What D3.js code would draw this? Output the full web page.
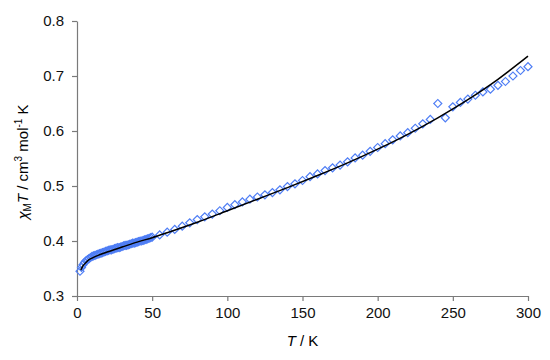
<!DOCTYPE html>
<html>
<head>
<meta charset="utf-8">
<script src="https://cdn.jsdelivr.net/npm/d3@7"></script>
<style>
  body { margin: 0; background: #fff; }
  svg { font-family: "Liberation Sans", Arial, sans-serif; }
</style>
</head>
<body>
<svg id="chart" width="550" height="360"></svg>
<script>
// measured chi_M*T values (open diamonds)
const tempData = [2, 3, 4, 5, 6, 7, 8, 9, 10, 11, 12, 13, 14, 15, 16, 17, 18, 19, 20,
    21, 22, 23, 24, 25, 26, 27, 28, 29, 30, 31, 32, 33, 34, 35, 36, 37, 38, 39, 40,
    41, 42, 43, 44, 45, 46, 47, 48, 49, 50,
    55, 60, 65, 70, 75, 80, 85, 90, 95, 100, 105, 110, 115, 120, 125, 130, 135, 140,
    145, 150, 155, 160, 165, 170, 175, 180, 185, 190, 195, 200, 205, 210, 215, 220,
    225, 230, 235, 240, 245, 250, 255, 260, 265, 270, 275, 280, 285, 290, 295, 300];
const chiTData = [0.345, 0.352, 0.357, 0.361, 0.364, 0.366, 0.368, 0.370, 0.372, 0.373,
    0.374, 0.375, 0.376, 0.377, 0.378, 0.379, 0.380, 0.381, 0.382,
    0.383, 0.384, 0.384, 0.385, 0.386, 0.387, 0.388, 0.388, 0.389, 0.390,
    0.391, 0.392, 0.392, 0.393, 0.394, 0.395, 0.396, 0.396, 0.397, 0.398,
    0.399, 0.400, 0.400, 0.401, 0.402, 0.403, 0.404, 0.405, 0.406, 0.407,
    0.411, 0.416, 0.421, 0.427, 0.433, 0.439, 0.444, 0.449, 0.455, 0.461,
    0.466, 0.471, 0.476, 0.480, 0.484, 0.488, 0.493, 0.499,
    0.504, 0.510, 0.517, 0.522, 0.528, 0.533, 0.538, 0.544, 0.551, 0.556,
    0.563, 0.570, 0.577, 0.584, 0.591, 0.597,
    0.605, 0.613, 0.621, 0.650, 0.624, 0.644, 0.652, 0.658, 0.665, 0.671,
    0.676, 0.683, 0.690, 0.700, 0.710, 0.717];

// fitted curve (black line)
const tempFit = [2.5, 4, 6, 8, 10, 15, 20, 30, 40, 50, 60, 80, 100, 120, 140, 160,
    180, 200, 220, 240, 260, 280, 300];
const chiTFit = [0.347, 0.355, 0.361, 0.366, 0.369, 0.375, 0.380, 0.389, 0.398, 0.406,
    0.415, 0.434, 0.455, 0.476, 0.497, 0.519, 0.542, 0.567, 0.594, 0.624, 0.657,
    0.694, 0.736];

const xTicks = [0, 50, 100, 150, 200, 250, 300];
const yTicks = [0.3, 0.4, 0.5, 0.6, 0.7, 0.8];

const svg = d3.select("#chart");
const margin = {left: 77, right: 22, top: 21, bottom: 64};
const width = 550 - margin.left - margin.right;
const height = 360 - margin.top - margin.bottom;
const axisColor = "#7a7a7a";
const markerColor = "#4f7ef5";

const x = d3.scaleLinear().domain([0, 300]).range([0, width]);
const y = d3.scaleLinear().domain([0.3, 0.8]).range([height, 0]);

const g = svg.append("g").attr("transform", `translate(${margin.left},${margin.top})`);

const xAxis = g.append("g")
    .attr("transform", `translate(0,${height})`)
    .call(d3.axisBottom(x).tickValues(xTicks).tickSize(5).tickSizeOuter(0).tickPadding(6));
const yAxis = g.append("g")
    .call(d3.axisLeft(y).tickValues(yTicks).tickFormat(d3.format(".1f")).tickSize(5).tickSizeOuter(0).tickPadding(8));

[xAxis, yAxis].forEach(function(a) {
    a.selectAll("path, line").attr("stroke", axisColor).attr("stroke-width", 1.2);
    a.selectAll("text").attr("fill", "#111").attr("font-size", 15)
        .attr("font-family", "'Liberation Sans', Arial, sans-serif");
});

// data points
const points = tempData.map(function(t, i) { return [t, chiTData[i]]; });
const diamond = d3.symbol().type(d3.symbolSquare).size(32);
g.append("g").selectAll("path")
    .data(points)
    .enter().append("path")
    .attr("d", diamond)
    .attr("transform", d => `translate(${x(d[0])},${y(d[1])}) rotate(45)`)
    .attr("fill", "none")
    .attr("stroke", markerColor)
    .attr("stroke-width", 1.2);

// fit line
const fit = tempFit.map(function(t, i) { return [t, chiTFit[i]]; });
g.append("path")
    .datum(fit)
    .attr("fill", "none")
    .attr("stroke", "#000")
    .attr("stroke-width", 1.5)
    .attr("d", d3.line().x(d => x(d[0])).y(d => y(d[1])).curve(d3.curveMonotoneX));

// axis titles
svg.append("text")
    .attr("x", margin.left + width / 2)
    .attr("y", 346)
    .attr("text-anchor", "middle")
    .attr("font-size", 15)
    .html('<tspan font-style="italic">T</tspan> / K');

const yTitle = svg.append("text")
    .attr("transform", "translate(28,162) rotate(-90)")
    .attr("text-anchor", "middle")
    .attr("font-size", 15);
yTitle.append("tspan").attr("font-style", "italic").text("χ");
yTitle.append("tspan").attr("font-size", 10).attr("dy", 3).text("M");
yTitle.append("tspan").attr("font-style", "italic").attr("dy", -3).text("T");
yTitle.append("tspan").text(" / cm");
yTitle.append("tspan").attr("font-size", 10).attr("dy", -6).text("3");
yTitle.append("tspan").attr("dy", 6).text(" mol");
yTitle.append("tspan").attr("font-size", 10).attr("dy", -6).text("-1");
yTitle.append("tspan").attr("dy", 6).text(" K");
</script>
</body>
</html>
